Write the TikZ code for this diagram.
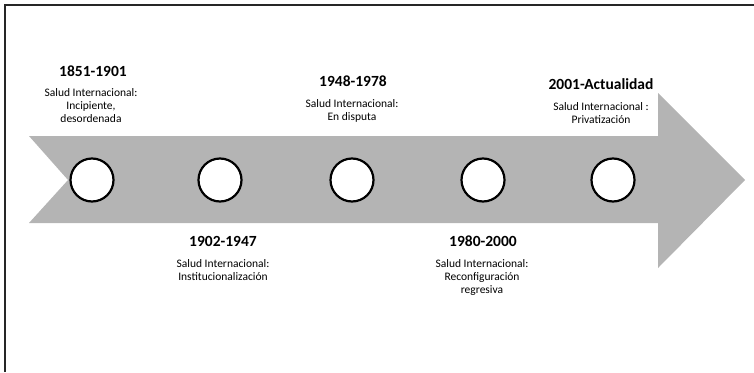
\documentclass[tikz,border=0pt]{standalone}
\usepackage{fontspec}
\setmainfont{Carlito}
\definecolor{arrowgray}{HTML}{B4B4B4}
\begin{document}
\begin{tikzpicture}[x=1pt,y=-1pt,
  yearlbl/.style={font=\fontsize{15.5}{18}\selectfont\bfseries, inner sep=0pt, anchor=center},
  desclbl/.style={font=\fontsize{11.5}{13}\selectfont, align=center, inner sep=0pt, anchor=center},
  dot/.style={circle, draw=black, line width=2.2pt, fill=white, minimum size=43pt, inner sep=0pt}]
\useasboundingbox (0,0) rectangle (754,372);
% frame (top and left)
\draw[line width=1.6pt, black!85] (5,372) -- (5,5) -- (754,5);
% arrow
\fill[arrowgray] (29,136) -- (658,136) -- (658,93) -- (745,180) -- (658,268) -- (658,223) -- (29,223) -- (68,180) -- cycle;
% circles
\node[dot] (c1) at (92,180) {};
\node[dot] (c2) at (220,180) {};
\node[dot] (c3) at (352,180) {};
\node[dot] (c4) at (483,180) {};
\node[dot] (c5) at (613,180) {};
% labels
\node[yearlbl] (y1) at (93,71) {1851-1901};
\node[desclbl] (d1) at (91,106) {Salud Internacional:\\Incipiente,\\desordenada};
\node[yearlbl] (y2) at (223,241) {1902-1947};
\node[desclbl] (d2) at (223,270) {Salud Internacional:\\Institucionalización};
\node[yearlbl] (y3) at (353,81) {1948-1978};
\node[desclbl] (d3) at (352,111) {Salud Internacional:\\En disputa};
\node[yearlbl] (y4) at (483,241) {1980-2000};
\node[desclbl] (d4) at (482,277) {Salud Internacional:\\Reconfiguración\\regresiva};
\node[yearlbl] (y5) at (601,84) {2001-Actualidad};
\node[desclbl] (d5) at (601,113) {Salud Internacional :\\Privatización};
\end{tikzpicture}
\end{document}
